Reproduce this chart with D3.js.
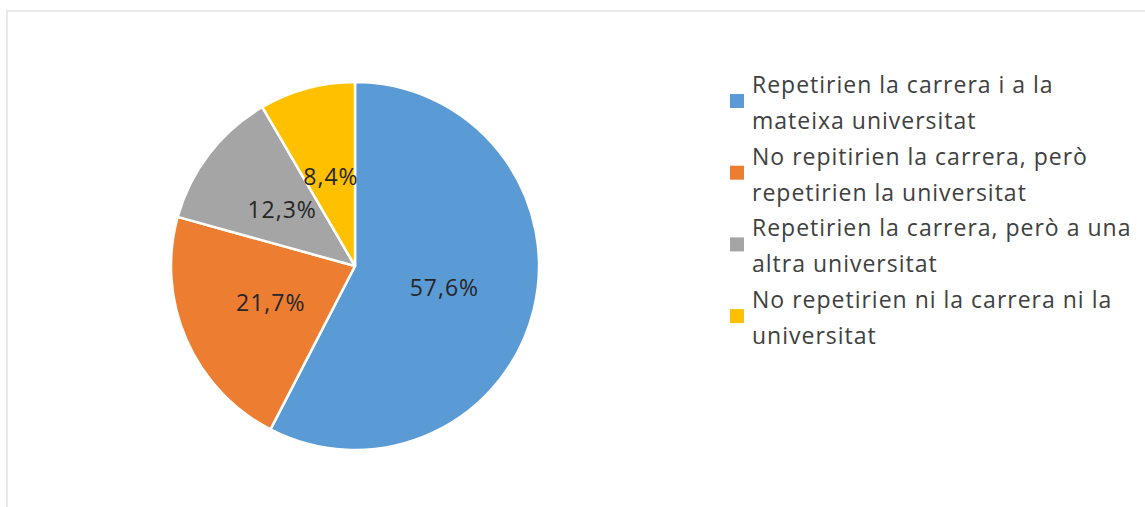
<!DOCTYPE html>
<html>
<head>
<meta charset="utf-8">
<script src="https://cdn.jsdelivr.net/npm/d3@7"></script>
<style>
  body { margin: 0; background: #fff; }
  svg { display: block; }
</style>
</head>
<body>
<script>
var categories = [
  'Repetirien la carrera i a la mateixa universitat',
  'No repitirien la carrera, però repetirien la universitat',
  'Repetirien la carrera, però a una altra universitat',
  'No repetirien ni la carrera ni la universitat'
];
var values = [57.6, 21.7, 12.3, 8.4];
var valueLabels = ['57,6%', '21,7%', '12,3%', '8,4%'];
var legendLines = [
  ['Repetirien la carrera i a la', 'mateixa universitat'],
  ['No repitirien la carrera, però', 'repetirien la universitat'],
  ['Repetirien la carrera, però a una', 'altra universitat'],
  ['No repetirien ni la carrera ni la', 'universitat']
];
var colors = ['#5B9BD5', '#ED7D31', '#A5A5A5', '#FFC000'];

var width = 1145, height = 507;
var font = '"Open Sans", Lato, sans-serif';

var svg = d3.select('body')
  .append('svg')
  .attr('width', width)
  .attr('height', height);

// chart frame
svg.append('rect')
  .attr('x', 7)
  .attr('y', 11)
  .attr('width', width)
  .attr('height', height)
  .attr('fill', '#fff')
  .attr('stroke', '#e3e3e3')
  .attr('stroke-width', 1.5);

var cx = 355, cy = 266, radius = 184;

var color = d3.scaleOrdinal().domain(categories).range(colors);

var pie = d3.pie()
  .sort(null)
  .value(function (d, i) { return values[i]; });

var arc = d3.arc().innerRadius(0).outerRadius(radius);
var arcs = pie(categories);

var g = svg.append('g')
  .attr('transform', 'translate(' + cx + ',' + cy + ')');

g.selectAll('path')
  .data(arcs)
  .enter()
  .append('path')
  .attr('d', arc)
  .attr('fill', function (d) { return color(d.data); })
  .attr('stroke', '#fff')
  .attr('stroke-width', 2.5)
  .attr('stroke-linejoin', 'round');

g.selectAll('text.lbl')
  .data(arcs)
  .enter()
  .append('text')
  .attr('class', 'lbl')
  .attr('transform', function (d) {
    var c = arc.centroid(d);
    return 'translate(' + c[0] + ',' + c[1] + ')';
  })
  .attr('text-anchor', 'middle')
  .attr('dy', '0.36em')
  .style('font-family', font)
  .style('font-size', '23px')
  .style('letter-spacing', '1px')
  .attr('fill', '#262626')
  .text(function (d, i) { return valueLabels[i]; });

// legend
var legend = svg.append('g')
  .attr('transform', 'translate(730,93)');

var item = legend.selectAll('g')
  .data(categories)
  .enter()
  .append('g')
  .attr('transform', function (d, i) { return 'translate(0,' + (i * 71.7) + ')'; });

item.append('rect')
  .attr('x', 0)
  .attr('y', 1)
  .attr('width', 14)
  .attr('height', 14)
  .attr('fill', function (d) { return color(d); });

item.append('text')
  .style('font-family', font)
  .style('font-size', '23px')
  .style('letter-spacing', '1px')
  .attr('fill', '#404040')
  .selectAll('tspan')
  .data(function (d, i) { return legendLines[i]; })
  .enter()
  .append('tspan')
  .attr('x', 22)
  .attr('y', function (d, j) { return j * 36; })
  .text(function (d) { return d; });
</script>
</body>
</html>
